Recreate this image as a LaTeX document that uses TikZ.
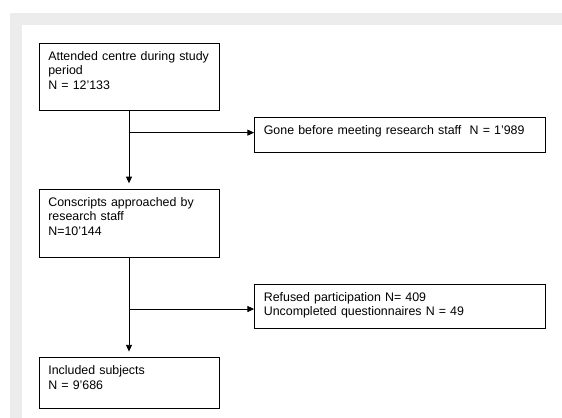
\documentclass[tikz,border=0pt]{standalone}
\usepackage{fontspec}
\setmainfont{Liberation Sans}
\usetikzlibrary{shapes,arrows.meta}
\definecolor{framegray}{RGB}{236,236,236}

\begin{document}
\begin{tikzpicture}[x=0.75pt, y=-0.75pt, font=\fontsize{9.3}{10.7}\selectfont]
  \tikzstyle{block} = [rectangle, draw, line width=0.6pt, align=left,
    text width=121pt, inner xsep=7pt, inner ysep=0pt, text height=13.1pt]
  \tikzstyle{side} = [block, text width=204.25pt]
  \tikzstyle{line} = [draw, line width=0.6pt, -{Triangle[length=5pt,width=4.5pt]}]

  % Frame
  \useasboundingbox (0,0) rectangle (562,418);
  \fill [framegray] (10,13) rectangle (562,25);
  \fill [framegray] (10,25) rectangle (22,418);

  % Place nodes
  \node [block, text depth=37.15pt] (attend) at (129,76.5) {Attended centre during study\\period\\N = 12'133};
  \node [block, below of=attend, node distance=109.9pt, text depth=37.9pt] (approach) {Conscripts approached by\\research staff\\N=10'144};
  \node [block, below of=approach, node distance=119.8pt, text depth=25.15pt] (incl) {Included subjects\\N = 9'686};
  \node [side, right of=attend, node distance=203.25pt, yshift=-43.7pt, text depth=13.15pt] (gone) {Gone before meeting research staff\ \ N = 1'989};
  \node [side, right of=approach, node distance=203.25pt, yshift=-62.4pt, text depth=19.9pt] (refused) {Refused participation N= 409\\Uncompleted questionnaires N = 49};
  \coordinate (gonein) at ([yshift=1.6pt]gone.west);
  \coordinate (refin) at ([yshift=-2.1pt]refused.west);

  % Draw edges
  \path [line, shorten >=4pt] (attend) -- (approach);
  \path [line] (attend |- gonein) -- (gonein);
  \path [line, shorten >=4pt] (approach) -- (incl);
  \path [line] (approach |- refin) -- (refin);
\end{tikzpicture}
\end{document}
